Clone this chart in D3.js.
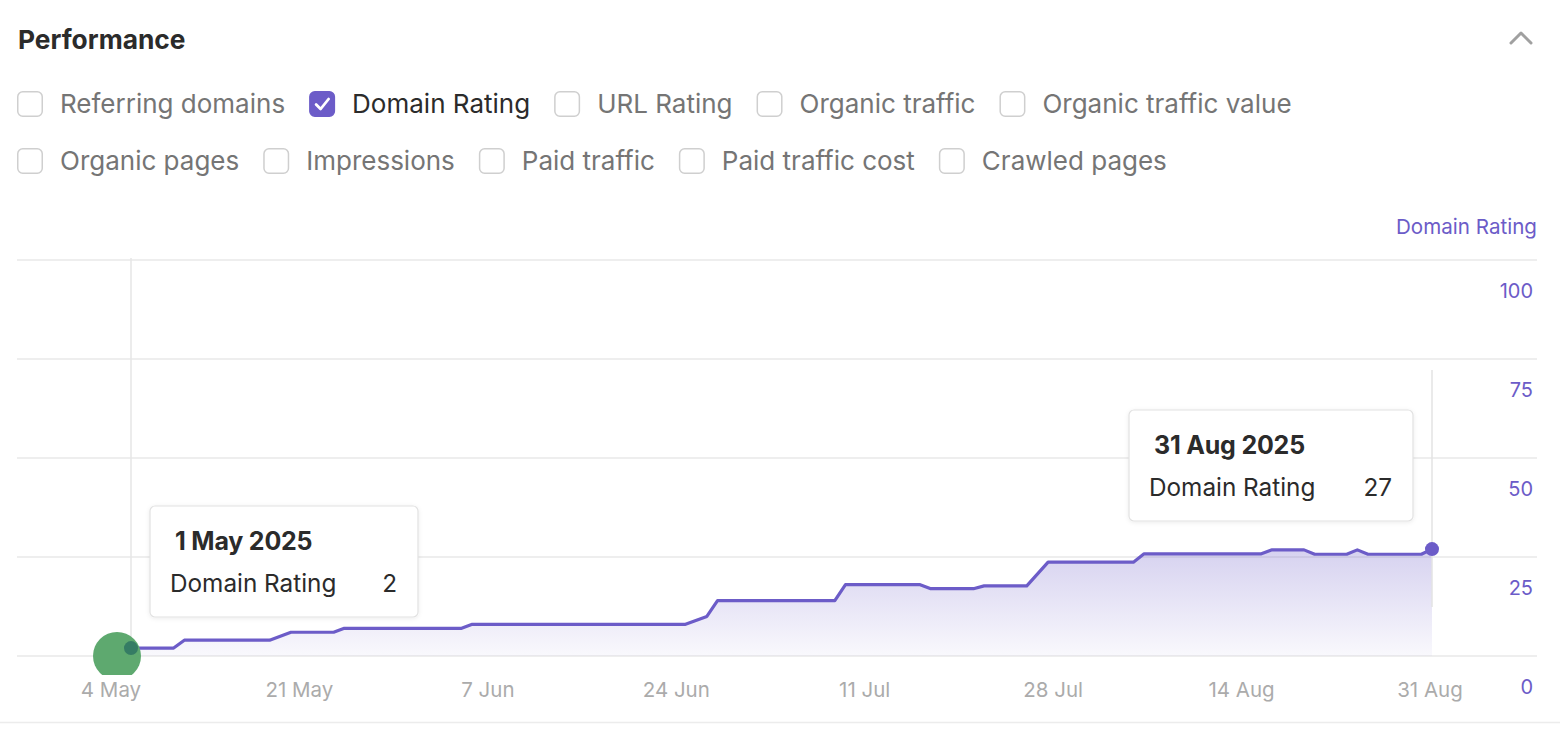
<!DOCTYPE html>
<html><head><meta charset="utf-8">
<script src="https://cdn.jsdelivr.net/npm/d3@7"></script>
<style>
body{margin:0;background:#fff;}
svg{display:block;font-family:Inter,"Noto Sans",sans-serif;}
</style>
</head><body><svg id="c" width="1560" height="730"></svg>
<script>
// ---------- data ----------
const panelTitle = "Performance";
const metricsRow1 = ["Referring domains","Domain Rating","URL Rating","Organic traffic","Organic traffic value"];
const metricsRow2 = ["Organic pages","Impressions","Paid traffic","Paid traffic cost","Crawled pages"];
const checkedMetric = "Domain Rating";
const seriesName = "Domain Rating";
const dates = ["2025-05-01","2025-05-05","2025-05-06","2025-05-14","2025-05-16","2025-05-20","2025-05-21",
  "2025-06-01","2025-06-02","2025-06-22","2025-06-24","2025-06-25","2025-07-06","2025-07-07","2025-07-14",
  "2025-07-15","2025-07-19","2025-07-20","2025-07-24","2025-07-26","2025-08-03","2025-08-04","2025-08-15",
  "2025-08-16","2025-08-19","2025-08-20","2025-08-23","2025-08-24","2025-08-25","2025-08-30","2025-08-31"];
const domainRating = [2,2,4,4,6,6,7,7,8,8,10,14,14,18,18,17,17,17.7,17.7,23.7,23.7,25.8,25.8,26.8,26.8,25.7,25.7,26.8,25.7,25.7,27];
const yTicks = [0,25,50,75,100];
const xTickLabels = ["4 May","21 May","7 Jun","24 Jun","11 Jul","28 Jul","14 Aug","31 Aug"];
const tooltipDates = ["2025-05-01","2025-08-31"];
const tooltipTitles = ["1 May 2025","31 Aug 2025"];
const tooltipValues = [2,27];

// ---------- setup ----------
const svg = d3.select("#c");
const parse = d3.timeParse("%Y-%m-%d");
const data = dates.map((d,i)=>({date:parse(d), value:domainRating[i]}));
const purple = "#6c5cc8";

svg.append("rect").attr("width",1560).attr("height",730).attr("fill","#fff");

// header
svg.append("text").attr("x",18).attr("y",49).attr("font-size",26.3).attr("font-weight",700)
  .attr("fill","#2b2b2b").text(panelTitle);
svg.append("polyline").attr("points","1511,43 1521,33 1531,43").attr("fill","none")
  .attr("stroke","#a0a0a0").attr("stroke-width",3).attr("stroke-linecap","round").attr("stroke-linejoin","round");

// checkboxes
function drawRow(items, yc){
  let x = 17;
  items.forEach(name=>{
    const checked = name===checkedMetric;
    const g = svg.append("g");
    g.append("rect").attr("x",x+0.75).attr("y",yc-12.25).attr("width",24.5).attr("height",24.5).attr("rx",5)
      .attr("fill",checked?purple:"#fff").attr("stroke",checked?purple:"#cfcfcf").attr("stroke-width",1.5);
    if(checked){
      g.append("path").attr("d",`M${x+7},${yc+0.5} L${x+11.5},${yc+5} L${x+19.5},${yc-5}`)
        .attr("fill","none").attr("stroke","#fff").attr("stroke-width",2.8).attr("stroke-linecap","round").attr("stroke-linejoin","round");
    }
    const t = g.append("text").attr("x",x+43).attr("y",yc+9).attr("font-size",26)
      .attr("fill",checked?"#2b2b2b":"#757575").text(name);
    const w = t.node().getComputedTextLength();
    x = x + 43 + w + 24;
  });
}
drawRow(metricsRow1, 104);
drawRow(metricsRow2, 161);

// scales
const x = d3.scaleTime().domain([parse(dates[0]), parse(dates[dates.length-1])]).range([131,1432]);
const y = d3.scaleLinear().domain([0,100]).range([656,260]);
const xLab = d3.scalePoint().domain(xTickLabels).range([111,1430]);

// series label
svg.append("text").attr("x",1537).attr("y",234).attr("text-anchor","end").attr("font-size",20.6)
  .attr("fill",purple).text(seriesName);

// grid
svg.append("g").selectAll("line").data(yTicks).join("line")
  .attr("x1",17).attr("x2",1537).attr("y1",d=>y(d)).attr("y2",d=>y(d))
  .attr("stroke","#e9e9e9").attr("stroke-width",1.5);

// y labels (offset below gridlines)
svg.append("g").selectAll("text").data(yTicks).join("text")
  .attr("x",1533).attr("y",d=>y(d)+38).attr("text-anchor","end").attr("font-size",20)
  .attr("fill",purple).text(d=>d);

// crosshair line
svg.append("line").attr("x1",x(parse(tooltipDates[0]))).attr("x2",x(parse(tooltipDates[0])))
  .attr("y1",258).attr("y2",656).attr("stroke","#e6e6e6").attr("stroke-width",1.5);

// clip
svg.append("clipPath").attr("id","clip").append("rect").attr("x",0).attr("y",200).attr("width",1560).attr("height",475);
const plot = svg.append("g").attr("clip-path","url(#clip)");

// area gradient
const defs = svg.append("defs");
const grad = defs.append("linearGradient").attr("id","ag")
  .attr("gradientUnits","userSpaceOnUse").attr("x1",0).attr("x2",0)
  .attr("y1",y(d3.max(domainRating))).attr("y2",y(0));
grad.append("stop").attr("offset",0).attr("stop-color",purple).attr("stop-opacity",0.28);
grad.append("stop").attr("offset",1).attr("stop-color",purple).attr("stop-opacity",0.04);

plot.append("path").datum(data)
  .attr("d",d3.area().x(d=>x(d.date)).y0(y(0)).y1(d=>y(d.value)))
  .attr("fill","url(#ag)");

plot.append("line").attr("x1",x(parse(tooltipDates[1]))).attr("x2",x(parse(tooltipDates[1])))
  .attr("y1",370).attr("y2",607).attr("stroke","#e3e3e3").attr("stroke-width",1.5);

plot.append("path").datum(data)
  .attr("d",d3.line().x(d=>x(d.date)).y(d=>y(d.value)))
  .attr("fill","none").attr("stroke",purple).attr("stroke-width",3.2).attr("stroke-linejoin","round");

// end dot
const last = data[data.length-1];
plot.append("circle").attr("cx",x(last.date)).attr("cy",y(last.value)).attr("r",7).attr("fill",purple);

// first point highlight
const first = data[0];
plot.append("circle").attr("cx",x(first.date)-14).attr("cy",y(0)).attr("r",24).attr("fill","#5ea96f");
plot.append("circle").attr("cx",x(first.date)).attr("cy",y(first.value)).attr("r",7).attr("fill","#357c64");

// x labels
svg.append("g").selectAll("text").data(xTickLabels).join("text")
  .attr("x",d=>xLab(d)).attr("y",697).attr("text-anchor","middle").attr("font-size",20.5)
  .attr("fill","#ababab").text(d=>d);

// bottom separator
svg.append("line").attr("x1",0).attr("x2",1560).attr("y1",722.5).attr("y2",722.5).attr("stroke","#ececec").attr("stroke-width",1.5);

// tooltips
const f = defs.append("filter").attr("id","sh").attr("x","-10%").attr("y","-10%").attr("width","120%").attr("height","130%");
f.append("feDropShadow").attr("dx",0).attr("dy",1).attr("stdDeviation",2).attr("flood-color","#000").attr("flood-opacity",0.08);

function tooltip(i, left, top){
  const w = i===0 ? 268 : 284, h = 111;
  const bx = left===null ? x(parse(tooltipDates[i])) - 19 - w : left;
  const g = svg.append("g");
  g.append("rect").attr("x",bx).attr("y",top).attr("width",w).attr("height",h).attr("rx",5)
    .attr("fill","#fff").attr("stroke","#e2e2e2").attr("stroke-width",1.2).attr("filter","url(#sh)");
  g.append("text").attr("x",bx+25).attr("y",top+44).attr("font-size",25).attr("font-weight",700)
    .attr("fill","#2b2b2b").attr("letter-spacing",-0.2).text(tooltipTitles[i]);
  g.append("text").attr("x",bx+20).attr("y",top+86).attr("font-size",24.3)
    .attr("fill","#2b2b2b").text(seriesName);
  g.append("text").attr("x",bx+w-21).attr("y",top+86).attr("font-size",24.3).attr("text-anchor","end")
    .attr("fill","#2b2b2b").text(tooltipValues[i]);
}
tooltip(0, x(parse(tooltipDates[0]))+19, 506);
tooltip(1, null, 410);
</script>
</body></html>
